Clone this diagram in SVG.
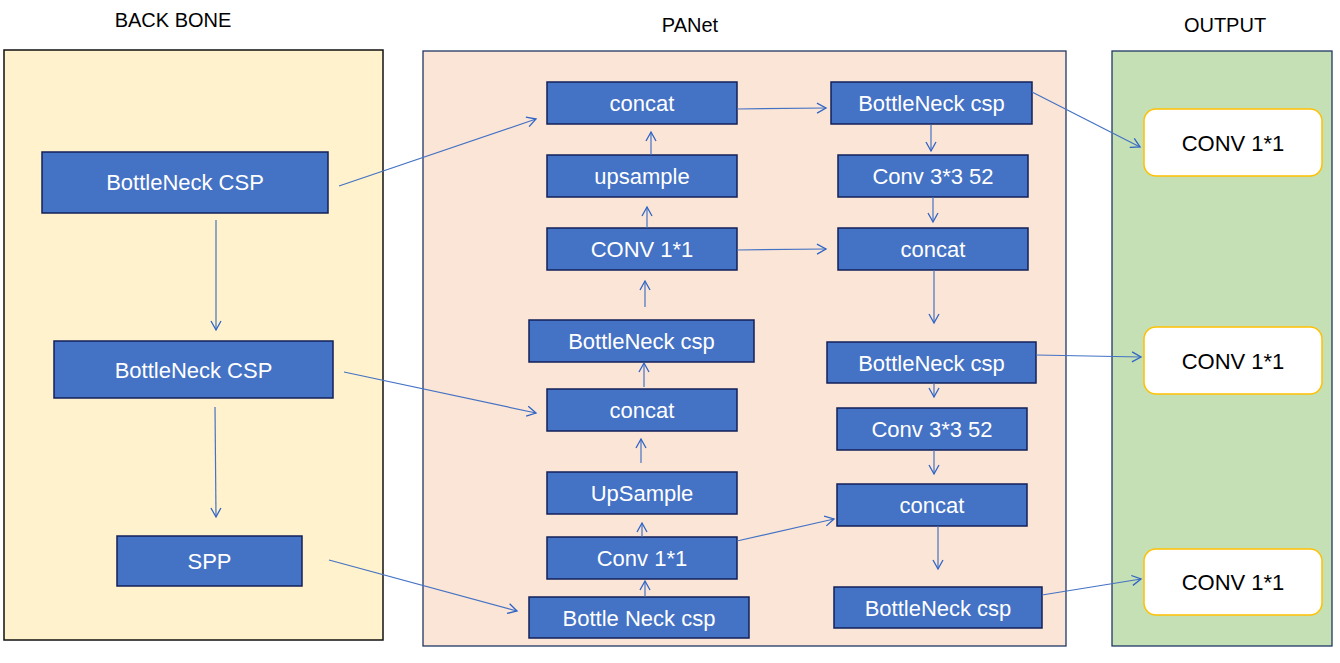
<svg xmlns="http://www.w3.org/2000/svg" width="1340" height="663" viewBox="0 0 1340 663">
<style>
.title{font-family:"Liberation Sans",Arial,sans-serif;font-size:20px;fill:#000;text-anchor:middle}
.node rect{fill:#4472C4;stroke:#13205A;stroke-width:1.5}
.node text{font-family:"Liberation Sans",Arial,sans-serif;font-size:22px;fill:#fff;text-anchor:middle}
.out rect{fill:#fff;stroke:#FFC000;stroke-width:1.5}
.out text{font-family:"Liberation Sans",Arial,sans-serif;font-size:22px;fill:#000;text-anchor:middle}
.conn line{stroke:#4472C4;stroke-width:1.2;fill:none;marker-end:url(#arr)}
</style>
<defs>
<marker id="arr" markerUnits="userSpaceOnUse" markerWidth="14" markerHeight="14" viewBox="-10 -7 12 14" refX="0" refY="0" orient="auto">
<path d="M-9,-5 L0,0 L-9,5" fill="none" stroke="#2E64C6" stroke-width="1.3"/>
</marker>
</defs>
<rect width="1340" height="663" fill="#fff"/>
<g id="panels">
<rect x="4" y="50" width="379" height="590" fill="#FFF2CC" stroke="#111" stroke-width="1.5"/>
<rect x="423" y="51" width="643" height="595" fill="#FBE5D6" stroke="#1F3864" stroke-width="1.3"/>
<rect x="1112" y="51" width="220" height="595" fill="#C5E0B4" stroke="#1F3864" stroke-width="1.3"/>
</g>
<g id="titles">
<text class="title" x="173" y="27">BACK BONE</text>
<text class="title" x="690" y="32">PANet</text>
<text class="title" x="1225" y="32">OUTPUT</text>
</g>
<g id="bb1" class="node"><rect x="42" y="152" width="286" height="61"/><text x="185" y="190">BottleNeck CSP</text></g>
<g id="bb2" class="node"><rect x="54" y="341" width="279" height="57"/><text x="193.5" y="377.5">BottleNeck CSP</text></g>
<g id="spp" class="node"><rect x="117" y="536" width="185" height="50"/><text x="209.5" y="569">SPP</text></g>
<g id="p_concat1" class="node"><rect x="547" y="82" width="190" height="42"/><text x="642" y="111">concat</text></g>
<g id="p_up1" class="node"><rect x="547" y="155" width="190" height="42"/><text x="642" y="184">upsample</text></g>
<g id="p_conv1" class="node"><rect x="547" y="228" width="190" height="42"/><text x="642" y="257">CONV 1*1</text></g>
<g id="p_bn1" class="node"><rect x="529" y="320" width="225" height="42"/><text x="641.5" y="349">BottleNeck csp</text></g>
<g id="p_concat2" class="node"><rect x="547" y="389" width="190" height="42"/><text x="642" y="418">concat</text></g>
<g id="p_up2" class="node"><rect x="547" y="472" width="190" height="42"/><text x="642" y="501">UpSample</text></g>
<g id="p_conv2" class="node"><rect x="547" y="537" width="190" height="42"/><text x="642" y="566">Conv 1*1</text></g>
<g id="p_bn2" class="node"><rect x="529" y="597" width="220" height="41"/><text x="639" y="625.5">Bottle Neck csp</text></g>
<g id="r_bn1" class="node"><rect x="831" y="82" width="201" height="42"/><text x="931.5" y="111">BottleNeck csp</text></g>
<g id="r_conv1" class="node"><rect x="838" y="155" width="190" height="42"/><text x="933" y="184">Conv 3*3 52</text></g>
<g id="r_concat1" class="node"><rect x="838" y="228" width="190" height="42"/><text x="933" y="257">concat</text></g>
<g id="r_bn2" class="node"><rect x="827" y="342" width="209" height="41"/><text x="931.5" y="370.5">BottleNeck csp</text></g>
<g id="r_conv2" class="node"><rect x="837" y="408" width="190" height="42"/><text x="932" y="437">Conv 3*3 52</text></g>
<g id="r_concat2" class="node"><rect x="837" y="484" width="190" height="42"/><text x="932" y="513">concat</text></g>
<g id="r_bn3" class="node"><rect x="834" y="587" width="208" height="41"/><text x="938" y="615.5">BottleNeck csp</text></g>
<g id="o1" class="out"><rect x="1144" y="109" width="178" height="67" rx="12"/><text x="1233" y="150.5">CONV 1*1</text></g>
<g id="o2" class="out"><rect x="1144" y="327" width="178" height="67" rx="12"/><text x="1233" y="368.5">CONV 1*1</text></g>
<g id="o3" class="out"><rect x="1144" y="549" width="178" height="66" rx="12"/><text x="1233" y="590">CONV 1*1</text></g>
<g id="connectors" class="conn">
<line x1="339" y1="186" x2="536" y2="119"/>
<line x1="344" y1="372" x2="536" y2="413"/>
<line x1="329" y1="560" x2="517" y2="611"/>
<line x1="216" y1="220" x2="216" y2="330"/>
<line x1="215" y1="407" x2="216" y2="517"/>
<line x1="645" y1="597" x2="645" y2="581"/>
<line x1="642" y1="537" x2="642" y2="523"/>
<line x1="641" y1="463" x2="641" y2="439"/>
<line x1="644" y1="387" x2="644" y2="363"/>
<line x1="645" y1="307" x2="645" y2="281"/>
<line x1="647" y1="228" x2="647" y2="207"/>
<line x1="651" y1="155" x2="651" y2="132"/>
<line x1="737" y1="109" x2="826" y2="108"/>
<line x1="737" y1="250" x2="826" y2="249"/>
<line x1="931" y1="125" x2="931" y2="151"/>
<line x1="933" y1="197" x2="933" y2="222"/>
<line x1="934" y1="270" x2="934" y2="323"/>
<line x1="1036" y1="355" x2="1141" y2="357"/>
<line x1="934" y1="383" x2="934" y2="397"/>
<line x1="934" y1="450" x2="934" y2="474"/>
<line x1="737" y1="541" x2="834" y2="519"/>
<line x1="938" y1="526" x2="938" y2="569"/>
<line x1="1042" y1="595" x2="1141" y2="579"/>
<line x1="1032" y1="92" x2="1140" y2="147"/>
</g>
</svg>
